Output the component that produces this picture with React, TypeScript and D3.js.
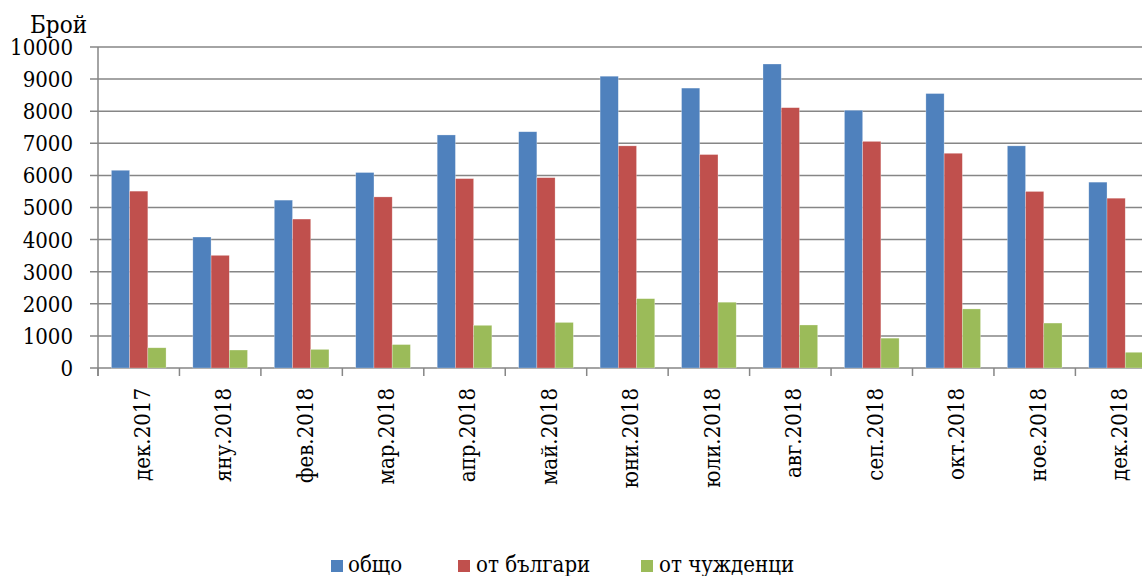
import React from "react";
import { scaleBand, scaleLinear, range } from "d3";

const months = [
  "дек.2017", "яну.2018", "фев.2018", "мар.2018", "апр.2018", "май.2018", "юни.2018",
  "юли.2018", "авг.2018", "сеп.2018", "окт.2018", "ное.2018", "дек.2018",
];
const total = [6160, 4080, 5230, 6090, 7260, 7360, 9090, 8720, 9470, 8030, 8550, 6920, 5790];
const bulgarians = [5510, 3510, 4640, 5330, 5900, 5930, 6920, 6650, 8110, 7060, 6690, 5500, 5290];
const foreigners = [630, 560, 580, 730, 1330, 1420, 2160, 2050, 1340, 930, 1840, 1400, 490];
const seriesNames = ["общо", "от българи", "от чужденци"];
const colors = ["#4F81BD", "#C0504D", "#9BBB59"];
const yTicks = range(0, 10001, 1000);

const W = 1142;
const H = 576;
const left = 98;
const top = 47;
const bottom = 368;
const catW = 81.45;
const font = '"DejaVu Serif Condensed", "DejaVu Serif", serif';

export default function App() {
  const series = [total, bulgarians, foreigners];
  const x = scaleBand<string>()
    .domain(months)
    .range([left, left + catW * months.length]);
  const y = scaleLinear().domain([0, 10000]).range([bottom, top]);
  const barW = x.bandwidth() / 4.47;
  const groupOffset = (x.bandwidth() - barW * 3) / 2;
  const axisRight = left + catW * months.length;

  return (
    <svg
      width={W}
      height={H}
      style={{ position: "absolute", left: 0, top: 0, background: "#fff", fontFamily: font, fontStretch: "condensed" }}
    >
      {yTicks.map((t) => (
        <g key={t}>
          <line x1={left - 8} x2={axisRight} y1={y(t)} y2={y(t)} stroke="#868686" strokeWidth={1.5} />
          <text x={73} y={y(t)} dy="0.36em" textAnchor="end" fontSize={22} fill="#000">
            {t}
          </text>
        </g>
      ))}
      <text x={30} y={33} fontSize={24} fill="#000">Брой</text>
      <line x1={left} x2={left} y1={top} y2={bottom + 8} stroke="#868686" strokeWidth={1.5} />
      {range(months.length + 1).map((i) => (
        <line
          key={i}
          x1={left + i * catW}
          x2={left + i * catW}
          y1={bottom}
          y2={bottom + 8}
          stroke="#868686"
          strokeWidth={1.5}
        />
      ))}
      {series.map((vals, si) =>
        vals.map((v, i) => (
          <rect
            key={`${si}-${i}`}
            x={(x(months[i]) ?? 0) + groupOffset + si * barW}
            y={y(v)}
            width={barW}
            height={bottom - y(v)}
            fill={colors[si]}
            stroke="rgba(255,255,255,0.45)"
            strokeWidth={0.6}
          />
        ))
      )}
      {months.map((m) => {
        const cx = (x(m) ?? 0) + x.bandwidth() / 2 + 3;
        return (
          <text
            key={m}
            transform={`translate(${cx},388) rotate(-90)`}
            dy="0.36em"
            textAnchor="end"
            fontSize={22}
            fill="#000"
          >
            {m}
          </text>
        );
      })}
      {[
        { sx: 331, tx: 348 },
        { sx: 458, tx: 476 },
        { sx: 641, tx: 659 },
      ].map((p, i) => (
        <g key={i}>
          <rect x={p.sx} y={560} width={12} height={12} fill={colors[i]} />
          <text x={p.tx} y={572} fontSize={22} fill="#000">
            {seriesNames[i]}
          </text>
        </g>
      ))}
    </svg>
  );
}
